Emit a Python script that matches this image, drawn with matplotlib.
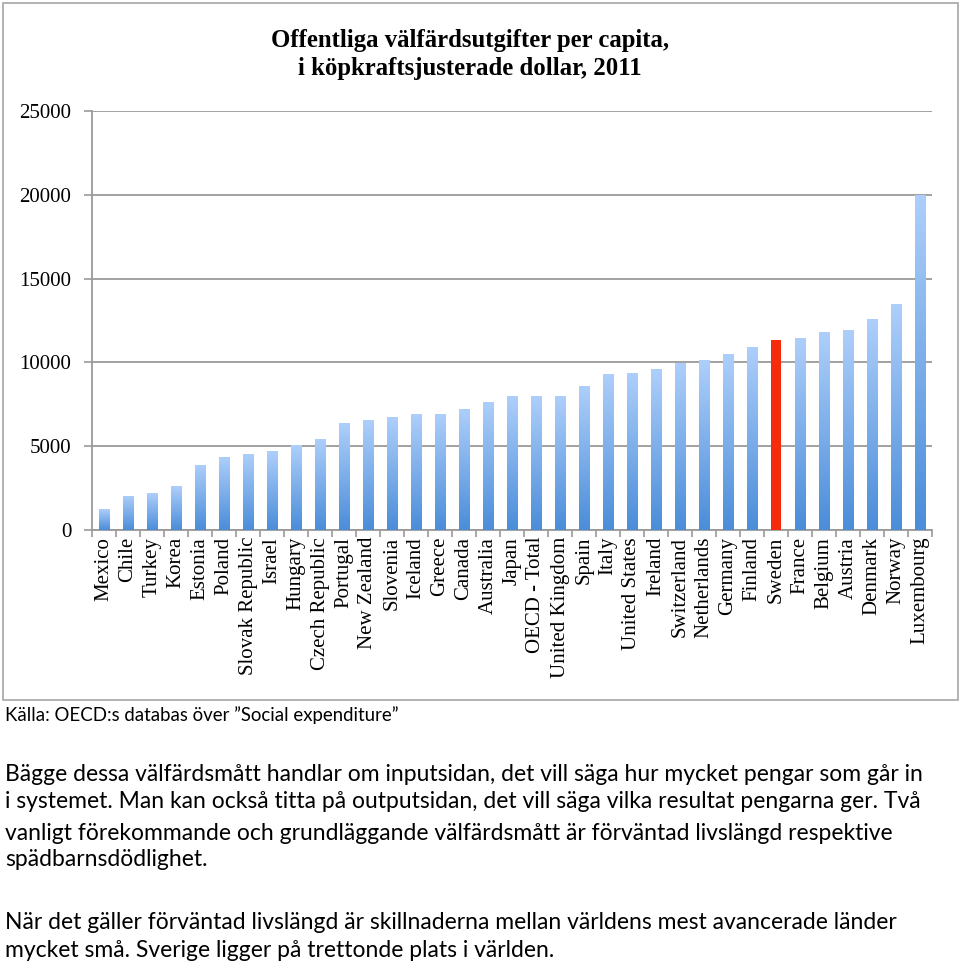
import numpy as np
import matplotlib
matplotlib.use("Agg")
import matplotlib.pyplot as plt
from matplotlib.patches import Rectangle
from matplotlib.colors import LinearSegmentedColormap

# values (USD PPP per capita, 2011)
countries = ["Mexico", "Chile", "Turkey", "Korea", "Estonia", "Poland",
             "Slovak Republic", "Israel", "Hungary", "Czech Republic",
             "Portugal", "New Zealand", "Slovenia", "Iceland", "Greece",
             "Canada", "Australia", "Japan", "OECD - Total", "United Kingdom",
             "Spain", "Italy", "United States", "Ireland", "Switzerland",
             "Netherlands", "Germany", "Finland", "Sweden", "France",
             "Belgium", "Austria", "Denmark", "Norway", "Luxembourg"]
spending = [1250, 2050, 2190, 2610, 3880, 4360, 4540, 4710, 5050, 5430,
            6370, 6560, 6740, 6920, 6940, 7220, 7660, 7980, 7980, 7980,
            8610, 9330, 9390, 9590, 9980, 10140, 10480, 10940, 11360, 11440,
            11810, 11910, 12570, 13480, 19990]
highlight = "Sweden"
yticks = [0, 5000, 10000, 15000, 20000, 25000]

title = "Offentliga välfärdsutgifter per capita,\ni köpkraftsjusterade dollar, 2011"
source = "Källa: OECD:s databas över \u201dSocial expenditure\u201d"
body = [
    "Bägge dessa välfärdsmått handlar om inputsidan, det vill säga hur mycket pengar som går in",
    "i systemet. Man kan också titta på outputsidan, det vill säga vilka resultat pengarna ger. Två",
    "vanligt förekommande och grundläggande välfärdsmått är förväntad livslängd respektive",
    "spädbarnsdödlighet.",
    "",
    "När det gäller förväntad livslängd är skillnaderna mellan världens mest avancerade länder",
    "mycket små. Sverige ligger på trettonde plats i världen.",
]

W, H = 960, 964
fig = plt.figure(figsize=(W / 100, H / 100), dpi=100)

# outer frame around the chart
fig.patches.append(Rectangle((3 / W, 1 - 700 / H), 955 / W, 697 / H,
                             transform=fig.transFigure, fill=False,
                             edgecolor="#a6a6a6", linewidth=1.2))

ax = fig.add_axes([92 / W, 1 - 530 / H, 840 / W, 419 / H])
grid_col = "#9a9a9a"
serif = "Liberation Serif"

x = np.arange(len(countries))
bars = ax.bar(x, spending, width=0.42, color="none", edgecolor="none", zorder=3)

blue = LinearSegmentedColormap.from_list("bl", ["#4a8dd9", "#aecffb"])
grad = np.linspace(0, 1, 256).reshape(-1, 1)
for b, name in zip(bars, countries):
    x0, w, h = b.get_x(), b.get_width(), b.get_height()
    if name == highlight:
        ax.add_patch(Rectangle((x0, 0), w, h, facecolor="#f62b0c",
                               edgecolor="none", zorder=4))
    else:
        im = ax.imshow(grad, cmap=blue, origin="lower", aspect="auto",
                       extent=(x0, x0 + w, 0, h), zorder=3)
        im.set_clip_path(b)

ax.set_xlim(-0.5, len(countries) - 0.5)
ax.set_ylim(0, 25000)
ax.set_yticks(yticks)
ax.set_yticklabels([str(v) for v in yticks], fontfamily=serif, fontsize=15)
ax.yaxis.grid(True, color=grid_col, linewidth=1.3, zorder=0)
ax.set_axisbelow(True)

ax.set_xticks(x)
ax.set_xticklabels(countries, rotation=90, fontfamily=serif, fontsize=15,
                   ha="center", va="top")
ax.set_xticks(np.arange(len(countries) + 1) - 0.5, minor=True)
ax.tick_params(axis="x", which="major", length=0, pad=5)
ax.tick_params(axis="x", which="minor", length=5, color=grid_col, width=1.2)
ax.tick_params(axis="y", length=6, color=grid_col, width=1.2, pad=9)

for s in ["top", "right"]:
    ax.spines[s].set_visible(False)
for s in ["left", "bottom"]:
    ax.spines[s].set_color(grid_col)
    ax.spines[s].set_linewidth(1.3)

fig.text(470 / W, 1 - 29 / H, title, ha="center", va="top",
         fontfamily=serif, fontweight="bold", fontsize=17.8, linespacing=1.25)

sans = "Lato"
fig.text(5 / W, 1 - 721 / H, source, ha="left", va="baseline",
         fontfamily=sans, fontsize=13.4)
baselines = [781, 808, 840, 866, 0, 929, 957]
for line, yb in zip(body, baselines):
    if line:
        fig.text(5 / W, 1 - yb / H, line, ha="left", va="baseline",
                 fontfamily=sans, fontsize=16.5)

fig.savefig("out.png", dpi=100)
